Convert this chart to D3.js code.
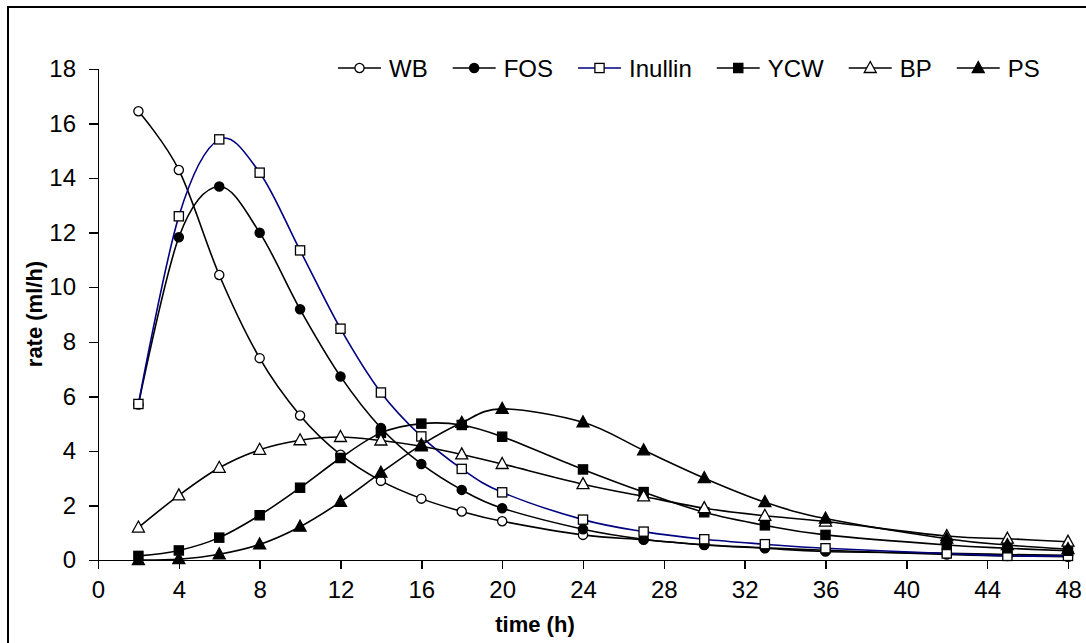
<!doctype html>
<html>
<head>
    <meta charset="utf-8">
    <title>rate vs time</title>
    <style>
        body { margin: 0; background: #FFFFFF; }
        text { font-family: "Liberation Sans", Arial, sans-serif; fill: #000000; }
        .axis path, .axis line { stroke: #000000; stroke-width: 1.5; shape-rendering: crispEdges; }
        .axis text { font-size: 24px; }
        .title { font-size: 22px; font-weight: bold; }
        .legend text { font-size: 24px; }
    </style>
</head>
<body>
    <div id="chart"></div>

    <script src="https://cdnjs.cloudflare.com/ajax/libs/d3/7.8.5/d3.min.js"></script>
    <script>
        // sampling times (h)
        var hours = [2, 4, 6, 8, 10, 12, 14, 16, 18, 20, 24, 27, 30, 33, 36, 42, 45, 48];

        // rate (ml/h) per substrate
        var wb = [16.45, 14.3, 10.45, 7.4, 5.3, 3.86, 2.9, 2.25, 1.78, 1.42, 0.92, 0.74, 0.56, 0.45, 0.36, 0.2, 0.15, 0.12];
        var fos = [5.7, 11.83, 13.69, 12.0, 9.19, 6.73, 4.84, 3.52, 2.57, 1.9, 1.13, 0.76, 0.55, 0.43, 0.31, 0.25, 0.2, 0.17];
        var inulin = [5.72, 12.6, 15.42, 14.2, 11.35, 8.48, 6.14, 4.53, 3.34, 2.48, 1.48, 1.04, 0.76, 0.58, 0.43, 0.24, 0.15, 0.15];
        var ycw = [0.15, 0.35, 0.82, 1.64, 2.65, 3.74, 4.66, 5.0, 4.95, 4.52, 3.32, 2.49, 1.75, 1.27, 0.92, 0.55, 0.43, 0.34];
        var bp = [1.19, 2.37, 3.38, 4.04, 4.39, 4.51, 4.38, 4.17, 3.87, 3.52, 2.78, 2.33, 1.9, 1.62, 1.41, 0.88, 0.78, 0.67];
        var ps = [0.0, 0.03, 0.21, 0.57, 1.22, 2.13, 3.2, 4.22, 5.03, 5.54, 5.05, 4.02, 3.0, 2.12, 1.52, 0.78, 0.55, 0.4];

        var names = ['WB', 'FOS', 'Inullin', 'YCW', 'BP', 'PS'];
        var xTicks = [0, 4, 8, 12, 16, 20, 24, 28, 32, 36, 40, 44, 48];
        var yTicks = [0, 2, 4, 6, 8, 10, 12, 14, 16, 18];

        var series = [
            { name: names[0], values: wb, shape: 'circle', fill: '#FFFFFF', line: '#000000' },
            { name: names[1], values: fos, shape: 'circle', fill: '#000000', line: '#000000' },
            { name: names[2], values: inulin, shape: 'square', fill: '#FFFFFF', line: '#000080' },
            { name: names[3], values: ycw, shape: 'square', fill: '#000000', line: '#000000' },
            { name: names[4], values: bp, shape: 'triangle', fill: '#FFFFFF', line: '#000000' },
            { name: names[5], values: ps, shape: 'triangle', fill: '#000000', line: '#000000' }
        ];

        var svg_width = 1086;
        var svg_height = 643;

        var svg = d3.select('#chart').append('svg')
            .attr('width', svg_width)
            .attr('height', svg_height);

        // outer frame
        svg.append('rect')
            .attr('x', 8)
            .attr('y', 7)
            .attr('width', 1100)
            .attr('height', 660)
            .attr('fill', 'none')
            .attr('stroke', '#000000')
            .attr('stroke-width', 2);

        var x = d3.scaleLinear().domain([0, 48]).range([98, 1068]);
        var y = d3.scaleLinear().domain([0, 18]).range([560, 69]);

        svg.append('g')
            .attr('class', 'axis')
            .attr('transform', 'translate(0,' + y(0) + ')')
            .call(d3.axisBottom(x).tickValues(xTicks).tickSizeOuter(0).tickSize(9).tickPadding(12));

        svg.append('g')
            .attr('class', 'axis')
            .attr('transform', 'translate(' + x(0) + ',0)')
            .call(d3.axisLeft(y).tickValues(yTicks).tickSizeOuter(0).tickSize(9).tickPadding(13));

        svg.append('text')
            .attr('class', 'title')
            .attr('x', 535)
            .attr('y', 632)
            .attr('text-anchor', 'middle')
            .text('time (h)');

        svg.append('text')
            .attr('class', 'title')
            .attr('transform', 'translate(42,314) rotate(-90)')
            .attr('text-anchor', 'middle')
            .text('rate (ml/h)');

        var line = d3.line()
            .x(function(d) { return x(d[0]); })
            .y(function(d) { return y(d[1]); })
            .curve(d3.curveCatmullRom.alpha(0));

        function marker(sel, s) {
            if (s.shape === 'circle') {
                sel.append('circle').attr('r', 4.6);
            } else if (s.shape === 'square') {
                sel.append('rect').attr('x', -4.6).attr('y', -4.6).attr('width', 9.2).attr('height', 9.2);
            } else {
                sel.append('path').attr('d', 'M0,-6.5L6,4.5L-6,4.5Z');
            }
            sel.selectAll('*')
                .attr('fill', s.fill)
                .attr('stroke', '#000000')
                .attr('stroke-width', 1.3);
        }

        series.forEach(function(s) {
            var pts = hours.map(function(h, i) { return [h, s.values[i]]; });
            var g = svg.append('g');

            g.append('path')
                .datum(pts)
                .attr('d', line)
                .attr('fill', 'none')
                .attr('stroke', s.line)
                .attr('stroke-width', 1.6);

            g.selectAll('g.pt')
                .data(pts)
              .enter().append('g')
                .attr('class', 'pt')
                .attr('transform', function(d) {
                    return 'translate(' + x(d[0]) + ',' + y(d[1]) + ')';
                })
                .each(function() { marker(d3.select(this), s); });
        });

        // legend
        var legend = svg.append('g').attr('class', 'legend');
        var lx = 338;
        var ly = 68;
        series.forEach(function(s) {
            var item = legend.append('g');
            item.append('line')
                .attr('x1', lx).attr('x2', lx + 43)
                .attr('y1', ly).attr('y2', ly)
                .attr('stroke', s.line)
                .attr('stroke-width', 1.6);
            var m = item.append('g').attr('transform', 'translate(' + (lx + 21.5) + ',' + ly + ')');
            marker(m, s);
            var t = item.append('text')
                .attr('x', lx + 51)
                .attr('y', ly + 8.5)
                .text(s.name);
            lx = lx + 51 + t.node().getComputedTextLength() + 25;
        });
    </script>
</body>
</html>
